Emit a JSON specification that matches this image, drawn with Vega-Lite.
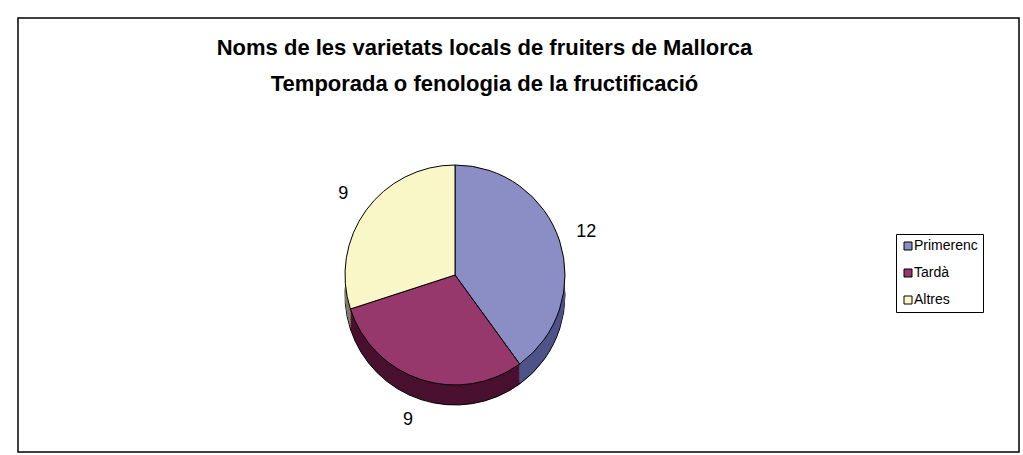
{
  "$schema": "https://vega.github.io/schema/vega-lite/v6.json",
  "width": 1001,
  "height": 434,
  "autosize": {"type": "none"},
  "padding": {"left": 18, "top": 18, "right": 4, "bottom": 3},
  "background": "white",
  "view": {"stroke": "black", "strokeWidth": 1.5, "fill": "white"},
  "config": {"font": "Liberation Sans"},
  "title": {
    "text": ["Noms de les varietats locals de fruiters de Mallorca", "Temporada o fenologia de la fructificació"],
    "font": "Liberation Sans",
    "fontSize": 22,
    "fontWeight": "bold",
    "color": "black",
    "anchor": "middle",
    "dx": -34,
    "offset": -78,
    "lineHeight": 36
  },
  "data": {
    "values": [
      {"cat": "Primerenc", "value": 12, "ord": 1},
      {"cat": "Tardà", "value": 9, "ord": 2},
      {"cat": "Altres", "value": 9, "ord": 3}
    ]
  },
  "layer": [
    {
      "transform": [
        {"stack": "value", "groupby": [], "sort": [{"field": "ord", "order": "ascending"}], "as": ["v0", "v1"]}
      ],
      "encoding": {
        "theta": {"field": "v0", "type": "quantitative", "scale": {"domain": [0, 30]}},
        "theta2": {"field": "v1"},
        "color": {"field": "cat", "type": "nominal", "scale": {"domain": ["Primerenc", "Tardà", "Altres"], "range": ["#4F5388", "#4A1030", "#7F806A"]}, "legend": null}
      },
      "layer": [
        {"mark": {"type": "arc", "outerRadius": 110, "xOffset": -63.5, "yOffset": 60, "stroke": "black", "strokeWidth": 1}},
        {"mark": {"type": "arc", "outerRadius": 110, "xOffset": -63.5, "yOffset": 58}},
        {"mark": {"type": "arc", "outerRadius": 110, "xOffset": -63.5, "yOffset": 56}},
        {"mark": {"type": "arc", "outerRadius": 110, "xOffset": -63.5, "yOffset": 54}},
        {"mark": {"type": "arc", "outerRadius": 110, "xOffset": -63.5, "yOffset": 52}},
        {"mark": {"type": "arc", "outerRadius": 110, "xOffset": -63.5, "yOffset": 50}},
        {"mark": {"type": "arc", "outerRadius": 110, "xOffset": -63.5, "yOffset": 48}},
        {"mark": {"type": "arc", "outerRadius": 110, "xOffset": -63.5, "yOffset": 46}},
        {"mark": {"type": "arc", "outerRadius": 110, "xOffset": -63.5, "yOffset": 44}},
        {"mark": {"type": "arc", "outerRadius": 110, "xOffset": -63.5, "yOffset": 42}}
      ]
    },
    {
      "mark": {"type": "arc", "outerRadius": 110, "xOffset": -63.5, "yOffset": 40, "stroke": "black", "strokeWidth": 1, "opacity": 1},
      "encoding": {
        "theta": {"field": "value", "type": "quantitative", "stack": true},
        "order": {"field": "ord", "type": "quantitative"},
        "color": {
          "field": "cat",
          "type": "nominal",
          "scale": {"domain": ["Primerenc", "Tardà", "Altres"], "range": ["#8A8EC4", "#96386C", "#F9F7C8"]},
          "legend": {
            "title": null,
            "orient": "none",
            "legendX": 878,
            "legendY": 216,
            "strokeColor": "black",
            "fillColor": "white",
            "padding": 5,
            "symbolType": "square",
            "symbolSize": 64,
            "symbolStrokeColor": "black",
            "symbolStrokeWidth": 1,
            "symbolOpacity": 1,
            "labelFont": "Liberation Sans",
            "labelFontSize": 14,
            "labelColor": "black",
            "rowPadding": 13,
            "labelOffset": -1
          }
        }
      }
    },
    {
      "mark": {"type": "text", "radius": 138, "xOffset": -63.5, "yOffset": 40, "font": "Liberation Sans", "fontSize": 18, "color": "black"},
      "encoding": {
        "theta": {"field": "value", "type": "quantitative", "stack": true},
        "order": {"field": "ord", "type": "quantitative"},
        "text": {"condition": {"test": "datum.cat === 'Tardà'", "value": ""}, "field": "value", "type": "quantitative"}
      }
    },
    {
      "mark": {"type": "text", "radius": 152, "xOffset": -63.5, "yOffset": 40, "font": "Liberation Sans", "fontSize": 18, "color": "black"},
      "encoding": {
        "theta": {"field": "value", "type": "quantitative", "stack": true},
        "order": {"field": "ord", "type": "quantitative"},
        "text": {"condition": {"test": "datum.cat !== 'Tardà'", "value": ""}, "field": "value", "type": "quantitative"}
      }
    }
  ],
  "resolve": {"scale": {"color": "independent"}}
}
